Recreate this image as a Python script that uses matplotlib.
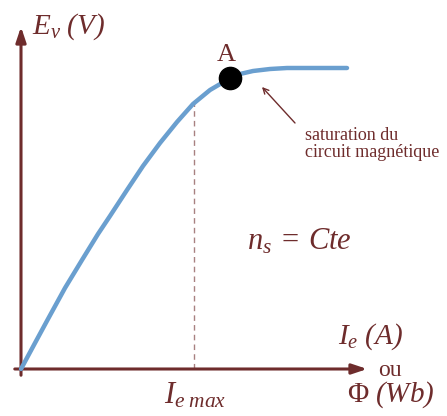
import matplotlib
matplotlib.use("Agg")
import matplotlib.pyplot as plt

plt.rcParams['font.family'] = ['Liberation Serif', 'DejaVu Serif']
plt.rcParams['mathtext.fontset'] = 'custom'
plt.rcParams['mathtext.rm'] = 'Liberation Serif:italic'
plt.rcParams['mathtext.it'] = 'Liberation Serif:italic'
plt.rcParams['mathtext.sf'] = 'Liberation Serif'

# curve (arbitrary units)
ie = [0.0, 0.14, 0.27, 0.44, 0.61, 0.77, 0.89, 1.06, 1.22, 1.39, 1.56,
      1.72, 1.89, 2.06, 2.19, 2.32, 2.49, 2.66, 2.99, 3.26]
ev = [0.0, 0.26, 0.50, 0.81, 1.09, 1.35, 1.53, 1.79, 2.03, 2.26, 2.47,
      2.65, 2.79, 2.89, 2.95, 2.98, 3.00, 3.01, 3.01, 3.01]
ie_max = 1.73
ev_at_max = 2.66
point_a = (2.09, 2.91)

brown = '#6e2c2c'
blue = '#6a9fcf'

fig = plt.figure(figsize=(4.47, 4.16), dpi=100)
ax = fig.add_axes([0, 0, 1, 1])
ax.set_xlim(-0.21, 4.26)
ax.set_ylim(-0.47, 3.69)
ax.axis('off')

# axes with arrows
ax.annotate('', xy=(3.49, 0), xytext=(-0.09, 0),
            arrowprops=dict(arrowstyle='-|>,head_length=0.9,head_width=0.3', color=brown, lw=2.2))
ax.annotate('', xy=(0, 3.45), xytext=(0, -0.09),
            arrowprops=dict(arrowstyle='-|>,head_length=0.9,head_width=0.3', color=brown, lw=2.2))

ax.plot([ie_max, ie_max], [0, ev_at_max], color=brown, lw=1, ls=(0, (4, 3)), alpha=0.6)
ax.plot(ie, ev, color=blue, lw=3.2, solid_capstyle='round', zorder=3)
ax.plot(*point_a, 'o', color='black', ms=16, zorder=4)
ax.text(point_a[0] - 0.04, point_a[1] + 0.12, 'A', color=brown, fontsize=19, ha='center', va='bottom')

ax.text(0.11, 3.27, r'$E_v\ (V)$', color=brown, fontsize=21, ha='left', va='bottom')
ax.text(3.17, 0.17, r'$I_e\ (A)$', color=brown, fontsize=21, ha='left', va='bottom')
ax.text(3.69, -0.01, 'ou', color=brown, fontsize=17, ha='center', va='center')
ax.text(3.26, -0.41, r'$\mathsf{\Phi}\ (Wb)$', color=brown, fontsize=21, ha='left', va='bottom')
ax.text(ie_max - 0.30, -0.42, r'$I_{e\ max}$', color=brown, fontsize=22, ha='left', va='bottom')
ax.text(2.26, 1.27, r'$n_s\,=\,Cte$', color=brown, fontsize=22, ha='left', va='center')

ax.text(2.84, 2.25, 'saturation du\ncircuit magnétique', color=brown, fontsize=13,
        ha='left', va='center', linespacing=1.0)
ax.annotate('', xy=(2.41, 2.82), xytext=(2.74, 2.46),
            arrowprops=dict(arrowstyle='->', color=brown, lw=1, shrinkA=0, shrinkB=0))

fig.savefig('out.png', dpi=100, facecolor='white')
